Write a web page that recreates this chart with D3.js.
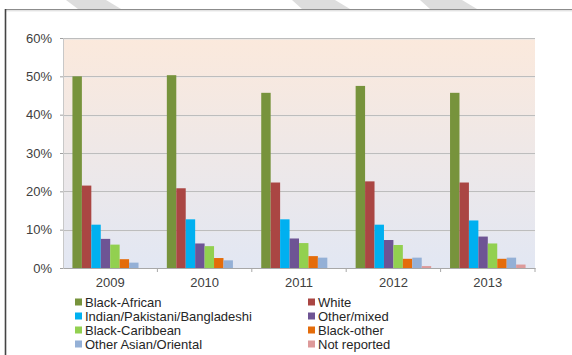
<!DOCTYPE html>
<html>
<head>
<meta charset="utf-8">
<script src="https://cdn.jsdelivr.net/npm/d3@7"></script>
<style>
  body { margin: 0; background: #fff; }
  svg text { font-family: "Liberation Sans", Arial, sans-serif; }
</style>
</head>
<body>
<div id="myChart"></div>
<script>
const years = ["2009", "2010", "2011", "2012", "2013"];
const groups = [
  "Black-African", "White", "Indian/Pakistani/Bangladeshi", "Other/mixed",
  "Black-Caribbean", "Black-other", "Other Asian/Oriental", "Not reported"
];
// percentage per group, one value per year
const blackAfrican = [50.0, 50.3, 45.7, 47.5, 45.7];
const white = [21.5, 20.8, 22.3, 22.6, 22.3];
const indian = [11.3, 12.7, 12.7, 11.3, 12.4];
const otherMixed = [7.6, 6.4, 7.7, 7.3, 8.2];
const blackCaribbean = [6.1, 5.7, 6.5, 6.0, 6.4];
const blackOther = [2.3, 2.6, 3.1, 2.4, 2.4];
const otherAsian = [1.4, 2.0, 2.7, 2.7, 2.7];
const notReported = [0, 0, 0, 0.5, 0.9];
const yTicks = [0, 10, 20, 30, 40, 50, 60];

const series = [blackAfrican, white, indian, otherMixed, blackCaribbean, blackOther, otherAsian, notReported];
const colors = ["#77933c", "#aa4643", "#00b0f0", "#6e5494", "#92d050", "#e46c0a", "#94b0d6", "#dd9a9a"];

const W = 572, H = 355;
const margin = { top: 38, right: 37, bottom: 87, left: 63 },
  width = W - margin.left - margin.right,
  height = H - margin.top - margin.bottom;

const root = d3.select("#myChart").append("svg")
  .attr("width", W).attr("height", H);

// watermark stripes and frame
const stripes = [
  [[66, 0], [106, 0], [121, 9], [78, 9]],
  [[292, 0], [335, 0], [350, 9], [302, 9]],
  [[420, 0], [462, 0], [477, 9], [430, 9]]
];
root.selectAll(".stripe").data(stripes).enter().append("polygon")
  .attr("points", (d) => d.map((p) => p.join(",")).join(" "))
  .attr("fill", "#dddddd");
root.append("line").attr("x1", 5).attr("x2", W).attr("y1", 9.5).attr("y2", 9.5)
  .attr("stroke", "#8c8c8c").attr("stroke-width", 1.2);
root.append("line").attr("x1", 5).attr("x2", W).attr("y1", 10.8).attr("y2", 10.8)
  .attr("stroke", "#d8d8d8").attr("stroke-width", 1);
root.append("line").attr("x1", 5.5).attr("x2", 5.5).attr("y1", 9).attr("y2", H)
  .attr("stroke", "#444").attr("stroke-width", 1.6);

const defs = root.append("defs");
const grad = defs.append("linearGradient").attr("id", "bg")
  .attr("x1", 0).attr("y1", 0).attr("x2", 0).attr("y2", 1);
grad.append("stop").attr("offset", "0%").attr("stop-color", "#fbe9dc");
grad.append("stop").attr("offset", "100%").attr("stop-color", "#e2e7f3");

const svg = root.append("g")
  .attr("transform", "translate(" + margin.left + "," + margin.top + ")");

const y = d3.scaleLinear().domain([0, 60]).range([height, 0]);
const x0 = d3.scaleBand().domain(years).range([0, width]);
const x1 = d3.scaleBand().domain(groups).range([0, x0.bandwidth()]).paddingOuter(1);

svg.append("rect").attr("width", width).attr("height", height).attr("fill", "url(#bg)");

// gridlines
svg.selectAll(".grid").data(yTicks.slice(1)).enter().append("line")
  .attr("x1", 0).attr("x2", width)
  .attr("y1", (d) => Math.round(y(d)) + 0.5).attr("y2", (d) => Math.round(y(d)) + 0.5)
  .attr("stroke", "#bdbdbd");
svg.selectAll(".grid2").data(yTicks.slice(1)).enter().append("line")
  .attr("x1", 0).attr("x2", width)
  .attr("y1", (d) => Math.round(y(d)) + 1.5).attr("y2", (d) => Math.round(y(d)) + 1.5)
  .attr("stroke", "#e8e8e8").attr("stroke-opacity", 0.6);

// bars
const yearG = svg.selectAll(".year").data(years).enter().append("g")
  .attr("transform", (d) => "translate(" + x0(d) + ",0)");
yearG.selectAll("rect")
  .data((yr, i) => series.map((s, k) => ({ g: groups[k], v: s[i], c: colors[k] })))
  .enter().append("rect")
  .attr("x", (d) => x1(d.g))
  .attr("width", x1.bandwidth())
  .attr("y", (d) => y(d.v))
  .attr("height", (d) => height - y(d.v))
  .attr("fill", (d) => d.c);

// y axis
const yAxis = svg.append("g")
  .call(d3.axisLeft(y).tickValues(yTicks).tickFormat((d) => d + "%").tickSize(3).tickPadding(8));
yAxis.select(".domain").attr("stroke", "#c8c8c8");
yAxis.selectAll(".tick line").attr("stroke", "#a0a0a0");
yAxis.selectAll("text").attr("fill", "#404040").style("font-size", "13px");

// x axis
const xAxis = svg.append("g").attr("transform", "translate(0," + height + ")")
  .call(d3.axisBottom(x0).tickSize(0).tickPadding(10));
xAxis.select(".domain").attr("stroke", "#a8a8a8");
xAxis.selectAll("text").attr("fill", "#404040").style("font-size", "13px");
svg.selectAll(".sep").data(years.slice(1).concat(["end"])).enter().append("line")
  .attr("x1", (d) => d === "end" ? width : x0(d)).attr("x2", (d) => d === "end" ? width : x0(d))
  .attr("y1", height).attr("y2", height + 4)
  .attr("stroke", "#a8a8a8");

// legend
const legend = root.append("g").selectAll("g").data(groups).enter().append("g")
  .attr("transform", (d, i) => "translate(" + (i % 2 === 0 ? 75 : 308) + "," + (302 + Math.floor(i / 2) * 14) + ")");
legend.append("rect").attr("x", 0).attr("y", -3.5).attr("width", 7).attr("height", 7)
  .attr("fill", (d, i) => colors[i]);
legend.append("text").attr("x", 10).attr("y", 0).attr("dy", "0.35em")
  .attr("fill", "#262626").style("font-size", "13px").text((d) => d);
</script>
</body>
</html>
